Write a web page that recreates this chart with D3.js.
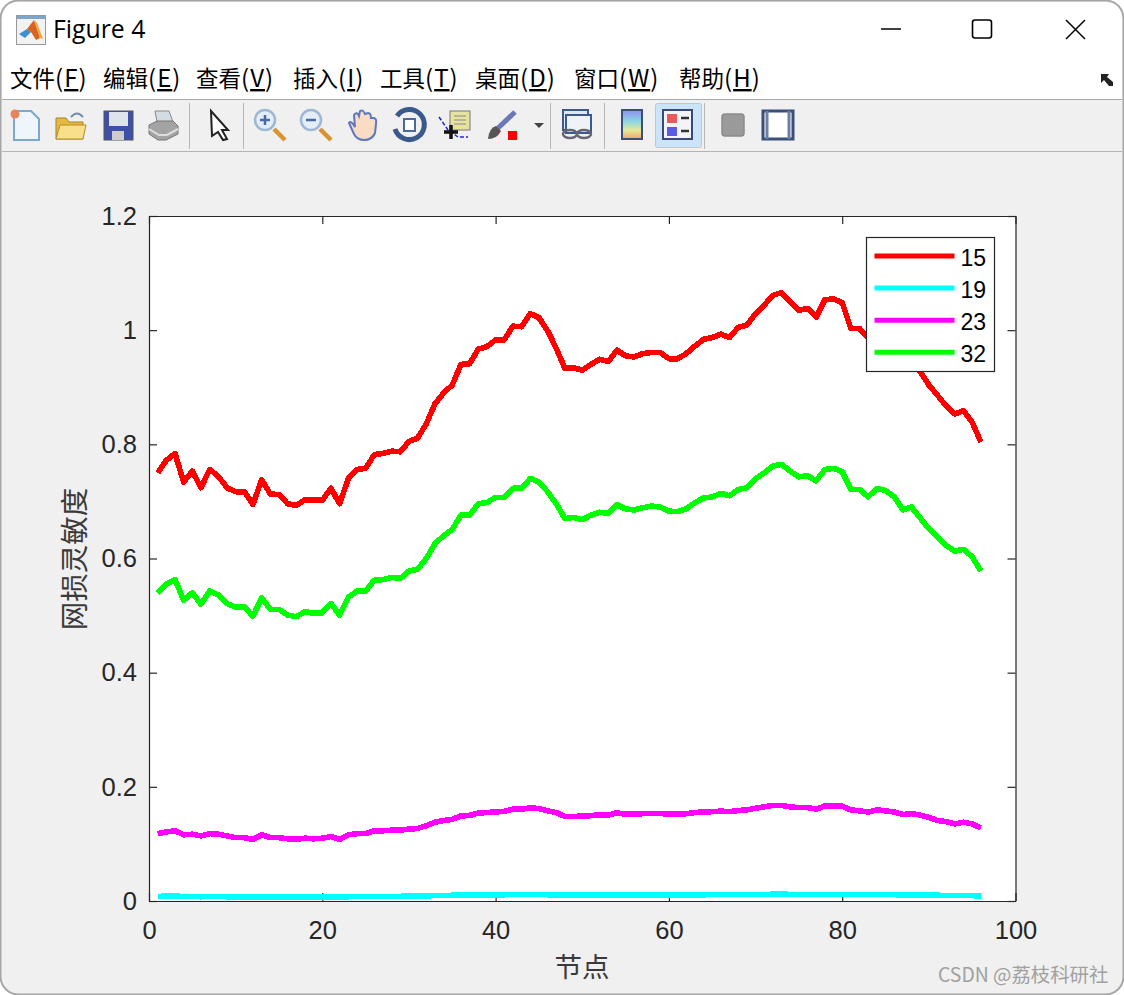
<!DOCTYPE html>
<html>
<head>
<meta charset="utf-8">
<title>Figure 4</title>
<script src="https://cdnjs.cloudflare.com/ajax/libs/d3/7.8.5/d3.min.js"></script>
<style>
  html, body { margin: 0; padding: 0; background: #fff; }
  svg { display: block; }
</style>
</head>
<body>
<div id="viz"></div>
<script>
const width = 1124, height = 995;

// chart values
const nodes = d3.range(1, 97);
const series15 = [
  0.750, 0.772, 0.784, 0.734, 0.753, 0.724, 0.756, 0.744, 0.724, 0.717, 0.717, 0.695,
  0.738, 0.713, 0.712, 0.696, 0.693, 0.703, 0.702, 0.702, 0.723, 0.696, 0.740, 0.756,
  0.758, 0.782, 0.784, 0.788, 0.787, 0.805, 0.811, 0.836, 0.871, 0.890, 0.904, 0.940,
  0.941, 0.967, 0.971, 0.983, 0.983, 1.007, 1.006, 1.029, 1.022, 0.999, 0.968, 0.933,
  0.934, 0.930, 0.940, 0.949, 0.945, 0.965, 0.955, 0.953, 0.959, 0.961, 0.961, 0.950,
  0.950, 0.959, 0.972, 0.984, 0.987, 0.993, 0.987, 1.005, 1.009, 1.029, 1.044, 1.061,
  1.066, 1.050, 1.035, 1.038, 1.023, 1.053, 1.055, 1.048, 1.003, 1.003, 0.986, 1.003,
  0.997, 0.982, 0.950, 0.958, 0.927, 0.904, 0.886, 0.867, 0.853, 0.859, 0.839, 0.804
];
const series19 = [
  0.0080, 0.0085, 0.0085, 0.0080, 0.0080, 0.0075, 0.0080, 0.0080, 0.0075, 0.0075, 0.0075, 0.0070,
  0.0075, 0.0070, 0.0070, 0.0070, 0.0065, 0.0070, 0.0070, 0.0070, 0.0075, 0.0070, 0.0075, 0.0078,
  0.0078, 0.0080, 0.0080, 0.0082, 0.0082, 0.0085, 0.0085, 0.0090, 0.0095, 0.0098, 0.0100, 0.0105,
  0.0105, 0.0108, 0.0110, 0.0110, 0.0110, 0.0112, 0.0112, 0.0115, 0.0113, 0.0110, 0.0108, 0.0105,
  0.0105, 0.0105, 0.0106, 0.0107, 0.0107, 0.0109, 0.0108, 0.0108, 0.0109, 0.0109, 0.0109, 0.0108,
  0.0108, 0.0109, 0.0110, 0.0110, 0.0111, 0.0112, 0.0111, 0.0112, 0.0113, 0.0113, 0.0116, 0.0118,
  0.0118, 0.0117, 0.0116, 0.0116, 0.0115, 0.0117, 0.0117, 0.0116, 0.0113, 0.0112, 0.0111, 0.0113,
  0.0112, 0.0111, 0.0107, 0.0108, 0.0106, 0.0103, 0.0100, 0.0099, 0.0096, 0.0097, 0.0095, 0.0085
];
const series23 = [
  0.118, 0.121, 0.123, 0.116, 0.117, 0.114, 0.118, 0.117, 0.114, 0.111, 0.111, 0.108,
  0.116, 0.111, 0.111, 0.109, 0.108, 0.110, 0.109, 0.110, 0.113, 0.108, 0.116, 0.118,
  0.118, 0.123, 0.123, 0.124, 0.124, 0.126, 0.127, 0.132, 0.138, 0.141, 0.143, 0.149,
  0.150, 0.154, 0.155, 0.156, 0.157, 0.161, 0.161, 0.163, 0.162, 0.158, 0.155, 0.148,
  0.148, 0.149, 0.1495, 0.151, 0.1505, 0.1546, 0.152, 0.152, 0.153, 0.1535, 0.1535, 0.152,
  0.152, 0.153, 0.155, 0.156, 0.1565, 0.1575, 0.1565, 0.1585, 0.1595, 0.1625, 0.165, 0.1675,
  0.1675, 0.165, 0.1635, 0.1635, 0.161, 0.1665, 0.1665, 0.166, 0.1595, 0.158, 0.156, 0.1595,
  0.158, 0.156, 0.1515, 0.153, 0.1505, 0.1465, 0.141, 0.139, 0.135, 0.138, 0.135, 0.128
];
const series32 = [
  0.540, 0.555, 0.563, 0.527, 0.540, 0.520, 0.543, 0.536, 0.521, 0.515, 0.515, 0.499,
  0.531, 0.511, 0.511, 0.501, 0.498, 0.507, 0.504, 0.505, 0.521, 0.501, 0.532, 0.543,
  0.543, 0.562, 0.563, 0.567, 0.565, 0.578, 0.581, 0.600, 0.626, 0.640, 0.651, 0.676,
  0.676, 0.696, 0.698, 0.707, 0.707, 0.723, 0.723, 0.740, 0.734, 0.717, 0.696, 0.670,
  0.672, 0.668, 0.676, 0.681, 0.679, 0.694, 0.687, 0.685, 0.689, 0.692, 0.690, 0.683,
  0.682, 0.687, 0.698, 0.706, 0.708, 0.714, 0.710, 0.721, 0.724, 0.740, 0.750, 0.762,
  0.765, 0.753, 0.743, 0.745, 0.736, 0.756, 0.758, 0.752, 0.721, 0.721, 0.708, 0.723,
  0.719, 0.708, 0.685, 0.690, 0.671, 0.652, 0.638, 0.623, 0.613, 0.616, 0.603, 0.578
];
const seriesNames = ["15", "19", "23", "32"];
const seriesColors = ["#ff0000", "#00ffff", "#ff00ff", "#00ff00"];
const seriesValues = [series15, series19, series23, series32];
const xTicks = [0, 20, 40, 60, 80, 100];
const yTicks = [0, 0.2, 0.4, 0.6, 0.8, 1, 1.2];
const menuLabels = [["文件", "F"], ["编辑", "E"], ["查看", "V"], ["插入", "I"], ["工具", "T"], ["桌面", "D"], ["窗口", "W"], ["帮助", "H"]];
const menuX = [10, 103, 196, 293, 380, 475, 574, 679];

const plot = { left: 149, right: 1015.5, top: 216, bottom: 901 };
const axisColor = "#262626";
const cjk = "'Noto Sans CJK SC', sans-serif";
const latin = "'Liberation Sans', Arial, sans-serif";

const svg = d3.select("#viz").append("svg")
  .attr("width", width)
  .attr("height", height);

drawWindow();
drawToolbar();
drawChart();

function drawWindow() {
  // grey frame, white title and menu, grey toolbar and figure area
  svg.append("rect").attr("x", 0.5).attr("y", 0.5).attr("width", width - 1).attr("height", height - 1)
    .attr("rx", 18).attr("fill", "#f0f0f0").attr("stroke", "#a6a6a6").attr("stroke-width", 2);
  svg.append("path")
    .attr("d", `M2,99 V20 Q2,2 20,2 H1104 Q1122,2 1122,20 V99 Z`)
    .attr("fill", "#fff");
  svg.append("line").attr("x1", 2).attr("x2", 1122).attr("y1", 99.5).attr("y2", 99.5).attr("stroke", "#a8a8a8");
  svg.append("line").attr("x1", 2).attr("x2", 1122).attr("y1", 151.5).attr("y2", 151.5).attr("stroke", "#b4b4b4");

  // matlab icon
  const icon = svg.append("g").attr("transform", "translate(16,15)");
  icon.append("rect").attr("x", 0.5).attr("y", 0.5).attr("width", 29).attr("height", 29).attr("fill", "#f2f2f2").attr("stroke", "#999");
  icon.append("rect").attr("x", 1).attr("y", 1).attr("width", 28).attr("height", 3).attr("fill", "#7ea6c9");
  icon.append("path").attr("d", "M3,19 L11,14 L15,17 L9,23 Z").attr("fill", "#3f8fd0");
  icon.append("path").attr("d", "M11,14 L18,5 L24,23 L20,25 L15,17 Z").attr("fill", "#d9621e");
  icon.append("path").attr("d", "M18,5 L21,8 L27,24 L24,23 Z").attr("fill", "#f2a33a");

  svg.append("text").attr("x", 53).attr("y", 38).attr("font-family", "'Open Sans', 'Noto Sans', sans-serif")
    .attr("font-size", 24.8).attr("fill", "#000").text("Figure 4");

  // window buttons
  svg.append("line").attr("x1", 881).attr("x2", 901).attr("y1", 29).attr("y2", 29).attr("stroke", "#000").attr("stroke-width", 1.5);
  svg.append("rect").attr("x", 972.5).attr("y", 20).attr("width", 19).attr("height", 18).attr("rx", 2.5)
    .attr("fill", "none").attr("stroke", "#000").attr("stroke-width", 1.6);
  svg.append("path").attr("d", "M1066,20 L1085,39 M1085,20 L1066,39").attr("stroke", "#000").attr("stroke-width", 1.5);

  // menu bar
  menuLabels.forEach((m, i) => {
    const t = svg.append("text").attr("x", menuX[i]).attr("y", 87)
      .attr("font-family", cjk).attr("font-size", 22.5).attr("fill", "#000");
    t.append("tspan").text(m[0]);
    const rest = t.append("tspan").attr("font-size", 24).attr("letter-spacing", 1);
    rest.append("tspan").text("(");
    rest.append("tspan").attr("text-decoration", "underline").text(m[1]);
    rest.append("tspan").text(")");
  });
  // small dock arrow
  svg.append("path").attr("d", "M1101,74 H1109 L1107,77 L1113,82 V86 L1109,86 L1104,80 L1101,83 Z").attr("fill", "#222");
}

function drawToolbar() {
  // separators
  [189, 243, 550, 604, 704].forEach(x => {
    svg.append("line").attr("x1", x + 0.5).attr("x2", x + 0.5).attr("y1", 103).attr("y2", 149).attr("stroke", "#b8b8b8");
  });
  // pressed legend button
  svg.append("rect").attr("x", 655.5).attr("y", 103.5).attr("width", 46).attr("height", 44).attr("rx", 2)
    .attr("fill", "#cce4f7").attr("stroke", "#99d1ff");

  const g = x => svg.append("g").attr("transform", `translate(${x},125)`);

  // new
  let i = g(25);
  i.append("path").attr("d", "M-11,-14 H6 L14,-6 V15 H-11 Z").attr("fill", "#eef6fc").attr("stroke", "#7fa7cc").attr("stroke-width", 2);
  i.append("circle").attr("cx", -10).attr("cy", -11).attr("r", 4.5).attr("fill", "#e8845a");
  // open
  i = g(70);
  i.append("path").attr("d", "M-14,-7 H-4 L-1,-3 H13 V14 H-14 Z").attr("fill", "#e6b93c").attr("stroke", "#a8842a");
  i.append("path").attr("d", "M-14,14 L-10,0 H16 L13,14 Z").attr("fill", "#f8e08a").attr("stroke", "#b08c2c");
  i.append("path").attr("d", "M1,-8 Q7,-15 13,-8").attr("fill", "none").attr("stroke", "#6e8fb0").attr("stroke-width", 2);
  // save
  i = g(118);
  i.append("rect").attr("x", -14).attr("y", -14).attr("width", 29).attr("height", 29).attr("fill", "#3f4fa8").attr("stroke", "#555");
  i.append("rect").attr("x", -9).attr("y", -13).attr("width", 19).attr("height", 14).attr("fill", "#dfe3ee");
  i.append("rect").attr("x", -6).attr("y", 6).attr("width", 12).attr("height", 9).attr("fill", "#ccc");
  // print
  i = g(163);
  i.append("path").attr("d", "M-8,-14 H6 L10,-3 H-6 Z").attr("fill", "#d5dbe2").attr("stroke", "#888");
  i.append("path").attr("d", "M-14,0 L-6,-4 H10 L15,1 V9 L3,15 H-5 L-14,9 Z").attr("fill", "#a3a3a3").attr("stroke", "#777");
  i.append("path").attr("d", "M-14,4 L-4,10 H4 L15,4").attr("fill", "none").attr("stroke", "#ddd").attr("stroke-width", 2);
  // pointer
  i = g(220);
  i.append("path").attr("d", "M-9,-14 L8,5 H2 L7,14 L3,15 L-2,7 L-8,11 Z").attr("fill", "#fff").attr("stroke", "#222").attr("stroke-width", 2);

  // zoom in, zoom out
  [[270, true], [316, false]].forEach(([x, plus]) => {
    i = g(x);
    i.append("line").attr("x1", 4).attr("y1", 4).attr("x2", 15).attr("y2", 15).attr("stroke", "#d9932f").attr("stroke-width", 4.5);
    i.append("circle").attr("cx", -5).attr("cy", -5).attr("r", 10).attr("fill", "#e4eef8").attr("stroke", "#9fb7d4").attr("stroke-width", 2.5);
    i.append("path").attr("d", plus ? "M-10,-5 H0 M-5,-10 V0" : "M-10,-5 H0").attr("stroke", "#4a68a8").attr("stroke-width", 2.5);
  });

  // hand
  i = g(363);
  i.append("path").attr("d", "M-14,-2 Q-12,-5 -8,2 L-9,-10 Q-6,-14 -4,-9 L-3,-14 Q0,-16 2,-11 L5,-12 Q8,-12 8,-7 L11,-7 Q14,-6 13,-1 L12,8 Q9,15 1,15 Q-6,15 -9,9 Z")
    .attr("fill", "#f8dcc4").attr("stroke", "#5c78c0").attr("stroke-width", 2);

  // rotate
  i = g(409);
  i.append("path").attr("d", "M-12,-9 A15,15 0 1 1 -14,4").attr("fill", "none").attr("stroke", "#3a5a8c").attr("stroke-width", 5);
  i.append("rect").attr("x", -5).attr("y", -6).attr("width", 11).attr("height", 12).attr("fill", "#fff").attr("stroke", "#4a6a9c").attr("stroke-width", 2);

  // data cursor
  i = g(454);
  i.append("rect").attr("x", -4).attr("y", -14).attr("width", 20).attr("height", 19).attr("fill", "#e6e2a0").attr("stroke", "#777");
  i.append("path").attr("d", "M0,-9 H12 M0,-5 H12 M0,-1 H12").attr("stroke", "#888");
  i.append("path").attr("d", "M-15,-8 L-6,5 L4,12 H14").attr("fill", "none").attr("stroke", "#2222dd").attr("stroke-width", 1.5).attr("stroke-dasharray", "4 2");
  i.append("path").attr("d", "M-10,7 H4 M-3,0 V14").attr("stroke", "#111").attr("stroke-width", 3.5);

  // brush
  i = g(503);
  i.append("line").attr("x1", -6).attr("y1", 4).attr("x2", 12).attr("y2", -13).attr("stroke", "#6a78b8").attr("stroke-width", 5);
  i.append("path").attr("d", "M-15,14 Q-14,3 -7,1 L-2,6 Q-6,14 -15,14 Z").attr("fill", "#555");
  i.append("rect").attr("x", 5).attr("y", 6).attr("width", 9).attr("height", 9).attr("fill", "#ff0000");
  svg.append("path").attr("d", "M534,123 H544 L539,128 Z").attr("fill", "#444");

  // link plots
  i = g(577);
  i.append("rect").attr("x", -14).attr("y", -15).attr("width", 25).attr("height", 20).attr("fill", "#dfe8f2").attr("stroke", "#3a5a8c").attr("stroke-width", 2);
  i.append("rect").attr("x", -11).attr("y", -10).attr("width", 25).attr("height", 18).attr("fill", "#eef3f8").attr("stroke", "#3a5a8c").attr("stroke-width", 2);
  i.append("ellipse").attr("cx", -7).attr("cy", 9).attr("rx", 7).attr("ry", 4).attr("fill", "none").attr("stroke", "#667").attr("stroke-width", 2.5);
  i.append("ellipse").attr("cx", 7).attr("cy", 9).attr("rx", 7).attr("ry", 4).attr("fill", "none").attr("stroke", "#667").attr("stroke-width", 2.5);

  // colorbar
  const defs = svg.append("defs");
  const grad = defs.append("linearGradient").attr("id", "cbar").attr("x1", 0).attr("x2", 0).attr("y1", 0).attr("y2", 1);
  [["0%", "#8d8df0"], ["40%", "#8fd6e0"], ["70%", "#e6ea9a"], ["100%", "#f0a070"]].forEach(s => {
    grad.append("stop").attr("offset", s[0]).attr("stop-color", s[1]);
  });
  svg.append("rect").attr("x", 622).attr("y", 110).attr("width", 20).attr("height", 29)
    .attr("fill", "url(#cbar)").attr("stroke", "#3a5078").attr("stroke-width", 2);

  // legend
  i = g(678);
  i.append("rect").attr("x", -15).attr("y", -15).attr("width", 29).attr("height", 29).attr("fill", "#f4f4f8").attr("stroke", "#3a4a78").attr("stroke-width", 2);
  i.append("rect").attr("x", -11).attr("y", -11).attr("width", 10).attr("height", 9).attr("fill", "#e85a5a");
  i.append("rect").attr("x", -11).attr("y", 2).attr("width", 10).attr("height", 9).attr("fill", "#5a5ae8");
  i.append("path").attr("d", "M3,-7 H11 M3,6 H11").attr("stroke", "#333").attr("stroke-width", 2.5);

  // hide plot tools
  svg.append("rect").attr("x", 722).attr("y", 114).attr("width", 22).attr("height", 22).attr("rx", 3)
    .attr("fill", "#9a9a9a").attr("stroke", "#8a8a8a").attr("stroke-width", 1.5);
  svg.append("rect").attr("x", 763).attr("y", 111).attr("width", 30).attr("height", 28)
    .attr("fill", "#fff").attr("stroke", "#3a5078").attr("stroke-width", 3);
  svg.append("path").attr("d", "M767,111 V139 M789,111 V139").attr("stroke", "#6a80a8").attr("stroke-width", 3);
}

function drawChart() {
  const x = d3.scaleLinear().domain([0, 100]).range([plot.left, plot.right]);
  const y = d3.scaleLinear().domain([0, 1.2]).range([plot.bottom, plot.top]);

  svg.append("rect").attr("x", plot.left).attr("y", plot.top)
    .attr("width", plot.right - plot.left).attr("height", plot.bottom - plot.top)
    .attr("fill", "#fff");

  const xFmt = d => String(d);
  const axes = [
    svg.append("g").attr("transform", `translate(0,${plot.bottom})`)
      .call(d3.axisBottom(x).tickValues(xTicks).tickFormat(xFmt).tickSizeInner(-8).tickSizeOuter(0).tickPadding(19.5)),
    svg.append("g").attr("transform", `translate(${plot.left},0)`)
      .call(d3.axisLeft(y).tickValues(yTicks).tickFormat(xFmt).tickSizeInner(-8).tickSizeOuter(0).tickPadding(12)),
    svg.append("g").attr("transform", `translate(0,${plot.top})`)
      .call(d3.axisTop(x).tickValues(xTicks).tickFormat("").tickSizeInner(-8).tickSizeOuter(0)),
    svg.append("g").attr("transform", `translate(${plot.right},0)`)
      .call(d3.axisRight(y).tickValues(yTicks).tickFormat("").tickSizeInner(-8).tickSizeOuter(0))
  ];
  axes.forEach(a => {
    a.selectAll("path, line").attr("stroke", axisColor).attr("stroke-width", 1.2);
    a.selectAll("text").attr("font-family", latin).attr("font-size", 25.5).attr("fill", axisColor);
  });

  // the curves
  const line = d3.line().x((d, i) => x(nodes[i])).y(d => y(d));
  seriesValues.forEach((vals, i) => {
    svg.append("path").datum(vals)
      .attr("d", line)
      .attr("fill", "none")
      .attr("stroke", seriesColors[i])
      .attr("stroke-width", 5.6)
      .attr("stroke-linejoin", "round")
      .attr("shape-rendering", "crispEdges");
  });

  // axis labels
  svg.append("text").attr("x", 582).attr("y", 977).attr("text-anchor", "middle")
    .attr("font-family", cjk).attr("font-size", 27.5).attr("fill", "#3a3a3a").text("节点");
  svg.append("text").attr("transform", "translate(85,559) rotate(-90)").attr("text-anchor", "middle")
    .attr("font-family", cjk).attr("font-size", 28.5).attr("fill", "#3a3a3a").text("网损灵敏度");

  // legend
  const legend = svg.append("g").attr("transform", "translate(866.5,237.5)");
  legend.append("rect").attr("width", 128).attr("height", 134).attr("fill", "#fff").attr("stroke", axisColor).attr("stroke-width", 1.2);
  seriesNames.forEach((name, i) => {
    const row = legend.append("g").attr("transform", `translate(0,${18.5 + i * 32.1})`);
    row.append("line").attr("x1", 8).attr("x2", 88).attr("stroke", seriesColors[i]).attr("stroke-width", 5);
    row.append("text").attr("x", 94).attr("y", 10).attr("font-family", latin).attr("font-size", 23).attr("fill", "#000").text(name);
  });

  // watermark
  svg.append("text").attr("x", 938).attr("y", 982).attr("font-family", cjk).attr("font-size", 19.4)
    .attr("fill", "#a0a0a0").text("CSDN @荔枝科研社");
}
</script>
</body>
</html>
